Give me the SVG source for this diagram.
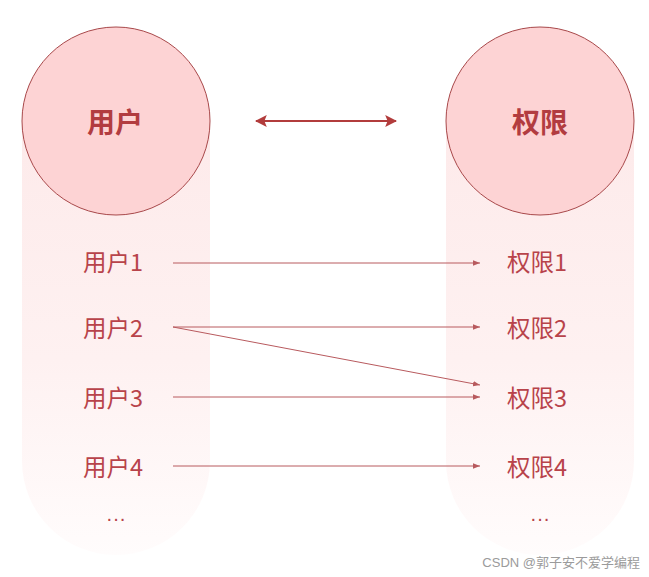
<svg xmlns="http://www.w3.org/2000/svg" width="649" height="577" viewBox="0 0 649 577">
<style>
.lbl{font-family:"Noto Sans CJK SC","Liberation Sans",sans-serif;font-size:23.5px;fill:#b8434a;dominant-baseline:central}
.title{font-family:"Noto Sans CJK SC","Liberation Sans",sans-serif;font-size:28px;font-weight:bold;fill:#b23c40;text-anchor:middle;dominant-baseline:central}
.circ{fill:#fdd3d4;stroke:#a8484a;stroke-width:1}
.band{fill:url(#fade)}
.conn{stroke:#b85a5e;stroke-width:1;fill:none;marker-end:url(#ah)}
.dots{font-family:"Liberation Sans",sans-serif;font-size:20px;fill:#b8434a;text-anchor:middle}
</style>
<defs>
<linearGradient id="fade" x1="0" y1="0" x2="0" y2="1">
<stop offset="0" stop-color="#fdeaea"/>
<stop offset="0.55" stop-color="#fef1f1"/>
<stop offset="1" stop-color="#fffcfc"/>
</linearGradient>
<marker id="ah" viewBox="0 0 10 10" refX="10" refY="5" markerWidth="7" markerHeight="7" markerUnits="userSpaceOnUse" orient="auto">
<path d="M0,1 L10,5 L0,9 z" fill="#b85a5e"/>
</marker>
<marker id="big" viewBox="0 0 10 10" refX="9" refY="5" markerWidth="12" markerHeight="12" markerUnits="userSpaceOnUse" orient="auto-start-reverse">
<path d="M0,0 L10,5 L0,10 L2,5 z" fill="#b23c3c"/>
</marker>
</defs>
<rect width="649" height="577" fill="#ffffff"/>
<g id="band-users"><path class="band" d="M22,120 H210 V461 A94,94 0 0 1 22,461 Z"/></g>
<g id="band-perms"><path class="band" d="M446,120 H634 V461 A94,94 0 0 1 446,461 Z"/></g>
<g id="users"><circle class="circ" cx="116" cy="121" r="94"/><text class="title" x="115" y="121">用户</text></g>
<g id="perms"><circle class="circ" cx="540" cy="121" r="94"/><text class="title" x="540" y="121">权限</text></g>
<g id="u1"><text class="lbl" x="83" y="261">用户1</text></g>
<g id="u2"><text class="lbl" x="83" y="327">用户2</text></g>
<g id="u3"><text class="lbl" x="83" y="397">用户3</text></g>
<g id="u4"><text class="lbl" x="83" y="466">用户4</text></g>
<g id="u5"><text class="dots" x="116" y="525">···</text></g>
<g id="p1"><text class="lbl" x="507" y="261">权限1</text></g>
<g id="p2"><text class="lbl" x="507" y="327">权限2</text></g>
<g id="p3"><text class="lbl" x="507" y="397">权限3</text></g>
<g id="p4"><text class="lbl" x="507" y="466">权限4</text></g>
<g id="p5"><text class="dots" x="540" y="525">···</text></g>
<g id="connectors">
<line x1="256" y1="121" x2="396" y2="121" stroke="#b23c3c" stroke-width="2" marker-start="url(#big)" marker-end="url(#big)"/>
<line class="conn" x1="173" y1="263" x2="480" y2="263"/>
<line class="conn" x1="173" y1="327" x2="480" y2="327"/>
<line class="conn" x1="173" y1="327" x2="480" y2="385"/>
<line class="conn" x1="173" y1="397" x2="480" y2="397"/>
<line class="conn" x1="173" y1="466" x2="480" y2="466"/>
</g>
<text x="640" y="567" text-anchor="end" font-family="'Liberation Sans','Noto Sans CJK SC',sans-serif" font-size="13" fill="#8a8a8a" opacity="0.85">CSDN @郭子安不爱学编程</text>
</svg>
